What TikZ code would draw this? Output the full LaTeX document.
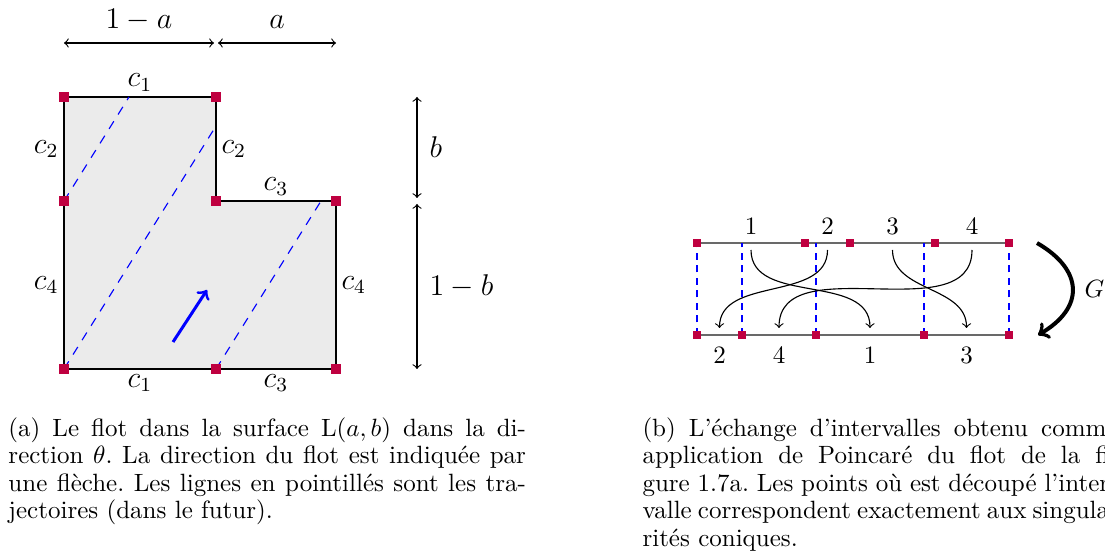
\documentclass[tikz,border=0pt]{standalone}
\usepackage{fontspec}
\usepackage{xcolor}
\usepackage{tikz}
\usetikzlibrary{arrows.meta,calc,positioning}
\definecolor{singred}{RGB}{191,0,64}
\definecolor{surfgray}{RGB}{235,235,235}
\definecolor{linegray}{RGB}{105,105,105}

\begin{document}
\begin{tikzpicture}[x=0.4pt, y=0.4pt, >=to,
    sing/.style={fill=singred, inner sep=0pt, minimum size=3.8pt},
    singsmall/.style={sing, minimum size=3.2pt},
    traj/.style={blue, line width=0.45pt, dash pattern=on 3.6pt off 3.2pt},
    vtraj/.style={blue, line width=0.5pt, dash pattern=on 2.8pt off 2.2pt},
    biglbl/.style={font=\large, inner sep=2pt},
    numlbl/.style={font=\normalsize, inner sep=2pt},
    dimarrow/.style={<->, line width=0.45pt},
    captiontext/.style={text width=207pt, align=justify, inner sep=0pt,
      font=\fontsize{10}{11}\selectfont\frenchspacing}]
  \useasboundingbox (0,0) rectangle (1105,559);

  % Corners of the L-shaped surface
  \coordinate (BL) at (64,190);
  \coordinate (BM) at (216,190);
  \coordinate (BR) at (336,190);
  \coordinate (ML) at (64,358);
  \coordinate (MM) at (216,358);
  \coordinate (MR) at (336,358);
  \coordinate (TL) at (64,462);
  \coordinate (TM) at (216,462);
  \draw[line width=0.8pt, fill=surfgray] (BL) -- (BR) -- (MR) -- (MM) -- (TM) -- (TL) -- cycle;

  % Trajectories leaving the singular points (slope 1.6)
  \coordinate (E1) at (216,433);
  \coordinate (E2) at (129,462);
  \coordinate (E3) at (321,358);
  \draw[traj] (BL) -- (E1);
  \draw[traj] (ML) -- (E2);
  \draw[traj] (BM) -- (E3);

  % Flow direction
  \coordinate (F0) at (173,217);
  \coordinate (F1) at (207,269);
  \draw[->, blue, line width=1.2pt] (F0) -- (F1);

  % Singular points
  \foreach \c in {BL,BM,BR,ML,MM,MR,TL,TM}
    \node[sing] (s\c) at (\c) {};

  % Side identifications
  \node[biglbl, above] (c1t) at ($(TL)!0.5!(TM)$) {$c_1$};
  \node[biglbl, below] (c1b) at ($(BL)!0.5!(BM)$) {$c_1$};
  \node[biglbl, left]  (c2l) at ($(TL)!0.5!(ML)$) {$c_2$};
  \node[biglbl, right] (c2r) at ($(TM)!0.5!(MM)$) {$c_2$};
  \node[biglbl, above] (c3t) at ($(MM)!0.5!(MR)$) {$c_3$};
  \node[biglbl, below] (c3b) at ($(BM)!0.5!(BR)$) {$c_3$};
  \node[biglbl, left]  (c4l) at ($(ML)!0.5!(BL)$) {$c_4$};
  \node[biglbl, right] (c4r) at ($(MR)!0.5!(BR)$) {$c_4$};

  % Widths and heights
  \coordinate (H0) at (64,516);
  \coordinate (H1) at (214,516);
  \coordinate (H2) at (218,516);
  \coordinate (H3) at (336,516);
  \draw[dimarrow] (H0) -- (H1);
  \draw[dimarrow] (H2) -- (H3);
  \node[biglbl, anchor=base] (wa) at ($(H0)!0.5!(H1)+(0,14)$) {$1-a$};
  \node[biglbl, anchor=base] (wb) at ($(H2)!0.5!(H3)+(0,14)$) {$a$};
  \coordinate (V0) at (417,462);
  \coordinate (V1) at (417,361);
  \coordinate (V2) at (417,355);
  \coordinate (V3) at (417,190);
  \draw[dimarrow] (V0) -- (V1);
  \draw[dimarrow] (V2) -- (V3);
  \node[biglbl, anchor=west, xshift=2.8pt] (hb) at ($(V0)!0.5!(V1)$) {$b$};
  \node[biglbl, anchor=west, xshift=2.8pt] (ha) at ($(V2)!0.5!(V3)$) {$1-b$};

  % Interval before and after the exchange
  \foreach \n/\xpos in {0/697,1/805,2/850,3/935,4/1009}
    \coordinate (T\n) at (\xpos,316);
  \foreach \n/\xpos in {0/697,1/742,2/816,3/924,4/1009}
    \coordinate (B\n) at (\xpos,224);
  \draw[linegray, line width=1pt] (T0) -- (T4);
  \draw[linegray, line width=1pt] (B0) -- (B4);
  \foreach \n in {0,...,4}
    \draw[vtraj] (B\n) -- (B\n |- T0);

  % Each subinterval k goes from (top left/right) to (bottom left/right)
  \foreach \k/\tl/\tr/\bl/\br in {1/T0/T1/B2/B3, 2/T1/T2/B0/B1, 3/T2/T3/B3/B4, 4/T3/T4/B1/B2} {
    \coordinate (u\k) at ($(\tl)!0.5!(\tr)+(0,-7)$);
    \coordinate (d\k) at ($(\bl)!0.5!(\br)+(0,7)$);
    \draw[->, line width=0.45pt] (u\k) to[out=-90, in=90] (d\k);
    \node[numlbl, above=1pt] (top\k) at ($(\tl)!0.5!(\tr)$) {\k};
    \node[numlbl, below=2.4pt] (bot\k) at ($(\bl)!0.5!(\br)$) {\k};
  }
  \foreach \n in {0,...,4} {
    \node[singsmall] (st\n) at (T\n) {};
    \node[singsmall] (sb\n) at (B\n) {};
  }

  % The map G
  \coordinate (G0) at (1037,316);
  \coordinate (G1) at (1038,224);
  \draw[->, line width=1.6pt] (G0) to[out=-30, in=30, looseness=1.5]
    node[numlbl, right=2pt] (glbl) {$G$} (G1);

  % Captions
  \node[captiontext, anchor=north west] (capa) at (8,142)
    {(a) Le flot dans la surface $\mathrm{L}(a,b)$ dans la di-\linebreak
     rection $\theta$. La direction du flot est indiquée par\linebreak
     une flèche. Les lignes en pointillés sont les tra-\linebreak
     jectoires (dans le futur).};
  \node[captiontext, text width=190pt, anchor=north west] (capb) at (642,142)
    {(b) L'échange d'intervalles obtenu comme\linebreak
     application de Poincaré du flot de la fi-\linebreak
     gure 1.7a. Les points où est découpé l'inter-\linebreak
     valle correspondent exactement aux singula-\linebreak
     rités coniques.};
\end{tikzpicture}
\end{document}
